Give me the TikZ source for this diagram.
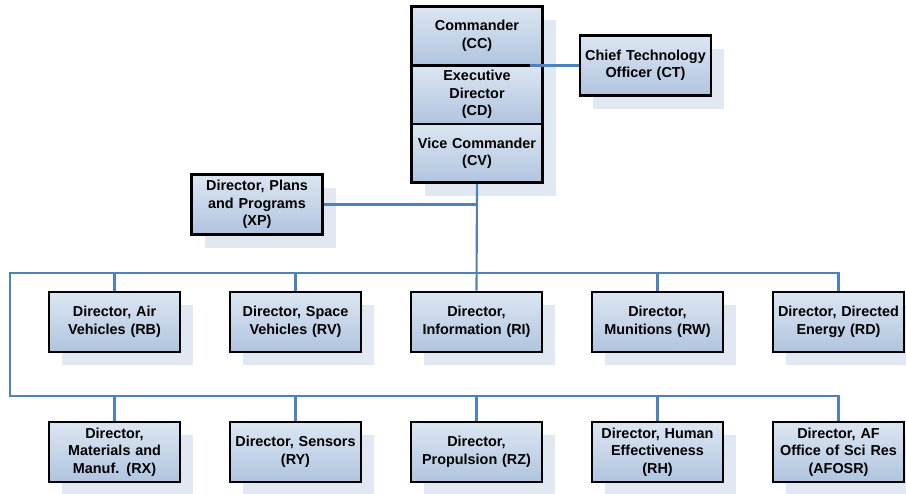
\documentclass[tikz,border=0pt]{standalone}
\usepackage{fontspec}
\setmainfont{Liberation Sans}
\usetikzlibrary{shadows,calc}
\definecolor{boxtop}{HTML}{DCE6F2}
\definecolor{boxbot}{HTML}{B0C4DF}
\definecolor{wireblue}{HTML}{4F81BD}
\definecolor{shade}{HTML}{E1E8F2}
\tikzstyle{block} = [draw, rectangle, line width=2.2pt, top color=boxtop, bottom color=boxbot, text width=94pt, align=center, minimum width=98.25pt, minimum height=45pt, inner sep=2pt, font=\fontsize{10.8}{13.1}\selectfont\bfseries, general shadow={fill=shade, shadow xshift=9.75pt, shadow yshift=-9.75pt}]
\tikzstyle{stack} = [block, minimum height=44pt]
\tikzstyle{wire} = [draw, wireblue, line width=1.6pt]

\begin{document}
\begin{tikzpicture}[x=0.75pt, y=-0.75pt, node distance=135.75pt]
        \useasboundingbox (0,0) rectangle (906,493);
        \node[stack] (cc) at (477,36) {Commander\\(CC)};
        \node[stack, below of=cc, node distance=44pt] (cd) {Executive\\Director\\(CD)};
        \node[stack, below of=cd, node distance=44pt] (cv) {Vice Commander\\(CV)};
        \node[block] (ct) at (645.5,65.5) {Chief Technology\\Officer (CT)};
        \node[block] (xp) at (257,204.5) {Director, Plans\\and Programs\\(XP)};
        \node[block] (rb) at (114.5,322) {Director, Air\\Vehicles (RB)};
        \node[block, right of=rb] (rv) {Director, Space\\Vehicles (RV)};
        \node[block, right of=rv] (ri) {Director,\\Information (RI)};
        \node[block, right of=ri] (rw) {Director,\\Munitions (RW)};
        \node[block, right of=rw] (rd) {Director, Directed\\Energy (RD)};
        \node[block, below of=rb, node distance=97.5pt] (rx) {Director,\\Materials and\\Manuf. (RX)};
        \node[block, right of=rx] (ry) {Director, Sensors\\(RY)};
        \node[block, right of=ry] (rz) {Director,\\Propulsion (RZ)};
        \node[block, right of=rz] (rh) {Director, Human\\Effectiveness\\(RH)};
        \node[block, right of=rh] (afosr) {Director, AF\\Office of Sci Res\\(AFOSR)};
        \coordinate (busa) at (10,273);
        \coordinate (busb) at (10,396);
        \path[wire] (ct.west) -- ($(ct.west -| cc.east)+(-14,0)$);
        \path[wire] (cv.south) -- (ri.north);
        \path[wire] (xp.east) -- (xp.east -| cv.south);
        \path[wire] (rd.north) |- (busa) -- (busb) -| (afosr.north);
        \foreach \dir in {rb,rv,rw}
            \path[wire] (\dir.north) -- (\dir.north |- busa);
        \foreach \dir in {rx,ry,rz,rh}
            \path[wire] (\dir.north) -- (\dir.north |- busb);
    \end{tikzpicture}
\end{document}
